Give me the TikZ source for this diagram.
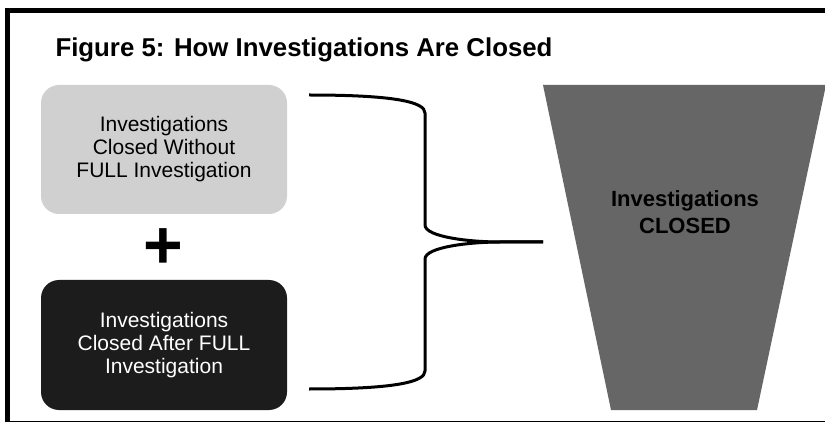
\documentclass[tikz,border=0pt]{standalone}
\usepackage{fontspec}
\setmainfont{Liberation Sans}
\definecolor{light}{RGB}{208,208,208}
\definecolor{dark}{RGB}{28,28,28}
\definecolor{funnelgray}{RGB}{102,102,102}

\begin{document}
\begin{tikzpicture}[x=1pt,y=-1pt,
				panel/.style={rectangle,rounded corners=18pt,minimum width=246pt,minimum height=129pt,inner sep=0pt,align=center,font=\fontsize{21}{23}\selectfont},
				bracket/.style={line width=3pt,line join=round}]
	\useasboundingbox[fill=white] (0,0) rectangle (825,422);
	\draw[line width=5pt] (7.5,11) rectangle (830,423);
	\node[anchor=base west,font=\bfseries\fontsize{25.8}{30}\selectfont] (T) at (52,57) {Figure 5: How Investigations Are Closed};
	\node[panel,fill=light] (W) at (164,149.5) {Investigations\\Closed Without\\FULL Investigation};
	\node[font=\bfseries\fontsize{68}{68}\selectfont] (P) at (163,249) {+};
	\node[panel,fill=dark,text=white,minimum height=130pt] (A) at (164,345) {Investigations\\Closed After FULL\\Investigation};
	% funnel
	\coordinate (F1) at (543,85);
	\coordinate (F2) at (826,85);
	\coordinate (F3) at (757,410);
	\coordinate (F4) at (611,410);
	\fill[funnelgray] (F1) -- (F2) -- (F3) -- (F4) -- cycle;
	\node[align=center,font=\bfseries\fontsize{22}{27}\selectfont] (C) at (685,212.6) {Investigations\\CLOSED};
	% brace
	\coordinate (B1) at (309,95);
	\coordinate (B2) at (543,242);
	\coordinate (B3) at (309,389);
	\draw[bracket] (B1) .. controls (395,95) and (425,102) .. (425,113) -- (425,225)
		.. controls (425,237) and (470,242) .. (500,242) -- (B2);
	\draw[bracket] (B2) -- (500,242) .. controls (470,242) and (425,247) .. (425,259) -- (425,371)
		.. controls (425,382) and (395,389) .. (B3);
\end{tikzpicture}
\end{document}
